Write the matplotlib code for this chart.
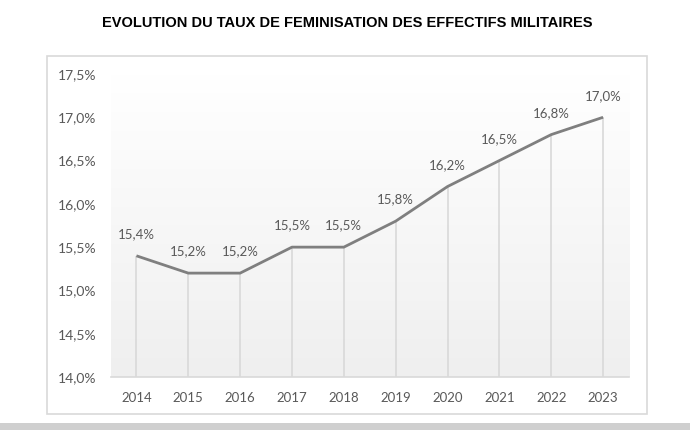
import matplotlib
matplotlib.use("Agg")
import matplotlib.pyplot as plt
import numpy as np
from matplotlib.patches import Rectangle

years = ["2014", "2015", "2016", "2017", "2018", "2019", "2020", "2021", "2022", "2023"]
rates = [15.4, 15.2, 15.2, 15.5, 15.5, 15.8, 16.2, 16.5, 16.8, 17.0]
y_ticks = [14.0, 14.5, 15.0, 15.5, 16.0, 16.5, 17.0, 17.5]
title = "EVOLUTION DU TAUX DE FEMINISATION DES EFFECTIFS MILITAIRES"

W, H = 690, 430
fig = plt.figure(figsize=(W / 100, H / 100), dpi=100)

def fx(px):
    return px / W

def fy(py):
    return 1 - py / H

# outer frame and bottom band
fig.patches.append(Rectangle((fx(46.5), fy(413.5)), fx(647 - 46.5), (413.5 - 55.5) / H,
                             transform=fig.transFigure, facecolor="white",
                             edgecolor="#d9d9d9", linewidth=1.2, zorder=-2))
fig.patches.append(Rectangle((0, 0), 1, (430 - 423) / H, transform=fig.transFigure,
                             facecolor="#cfcfcf", edgecolor="none", zorder=-2))

left, right, top, bottom = 110.5, 629, 74, 377
ax = fig.add_axes([fx(left), fy(bottom), fx(right - left), (bottom - top) / H])
ax.set_zorder(2)
ax.set_facecolor("none")

x = np.arange(len(years))
ax.set_xlim(-0.5, len(years) - 0.5)
ax.set_ylim(14.0, 17.5)

# gradient background (white at top, light grey at bottom)
g = np.linspace(0, 1, 256)[:, None, None]
top_c = np.array([1.0, 1.0, 1.0])
bot_c = np.array([0xef, 0xef, 0xef]) / 255
img = top_c * (1 - g) + bot_c * g
img = np.repeat(img, 2, axis=1)
ax.imshow(img, extent=[-0.5, len(years) - 0.5, 14.0, 17.5], aspect="auto",
          origin="upper", zorder=0)

ax.vlines(x, 14.0, rates, colors="#d9d9d9", linewidth=1.2, zorder=1)
ax.plot(x, rates, color="#7f7f7f", linewidth=2.0, solid_capstyle="butt", zorder=3)

font = "Lato"
for xi, v in zip(x, rates):
    ax.annotate(f"{v:.1f}%".replace(".", ","), (xi, v), xytext=(0, 15.5),
                textcoords="offset points", ha="center", va="center",
                fontsize=9.5, color="#595959", family=font)

ax.set_xticks(x)
ax.set_xticklabels(years)
ax.set_yticks(y_ticks)
ax.set_yticklabels([f"{t:.1f}%".replace(".", ",") for t in y_ticks])
ax.tick_params(axis="both", length=0, labelcolor="#595959")
ax.tick_params(axis="x", pad=11, labelsize=9.5)
ax.tick_params(axis="y", pad=10, labelsize=10)
for lab in ax.get_xticklabels() + ax.get_yticklabels():
    lab.set_family(font)

for s in ["top", "right", "left"]:
    ax.spines[s].set_visible(False)
ax.spines["bottom"].set_color("#d9d9d9")
ax.spines["bottom"].set_linewidth(1.2)

fig.text(fx(347), fy(23), title, ha="center", va="center", fontsize=10.5,
         fontweight="bold", family="Liberation Sans", color="black")

fig.savefig("out.png", dpi=100)
